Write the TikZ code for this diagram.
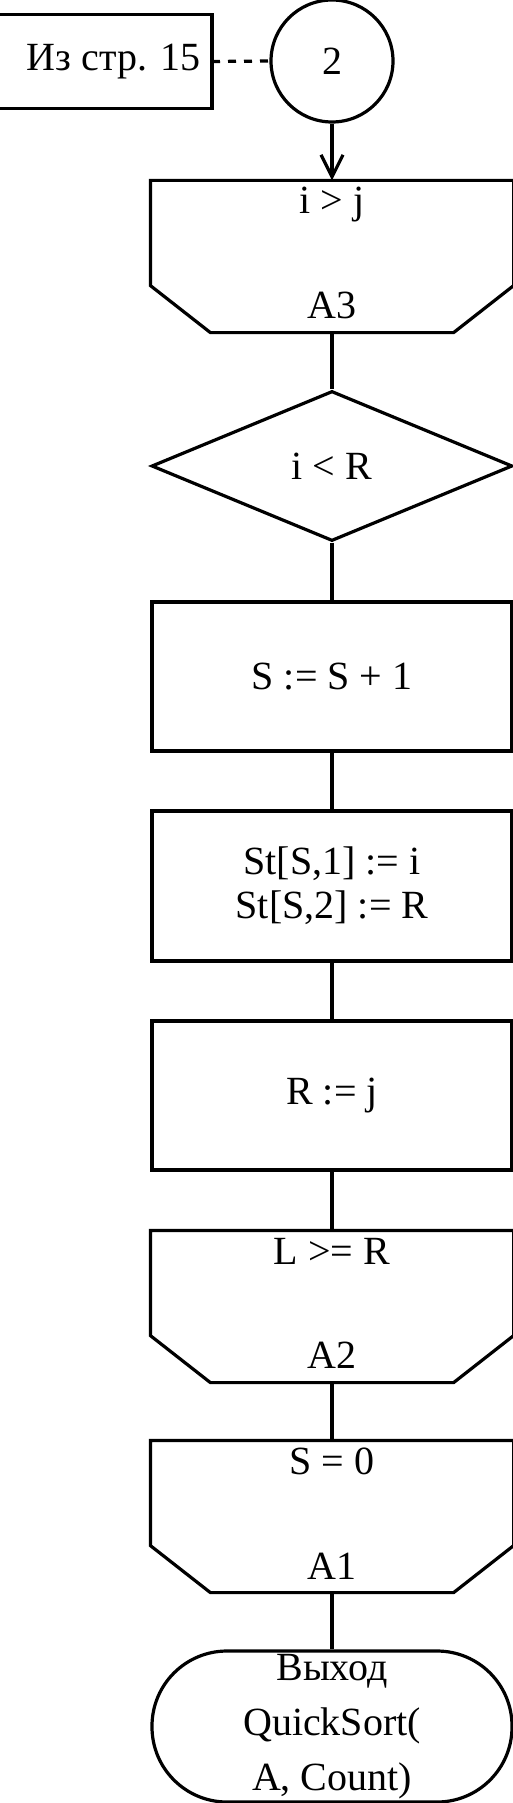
\documentclass[tikz,border=0pt]{standalone}
\usepackage{fontspec}
\setmainfont{Liberation Serif}
\usetikzlibrary{shapes.geometric,arrows.meta,calc}
\newcommand\loopoutline[1]{%
  \draw (#1.north west) -- (#1.north east) -- ($(#1.south east)+(0,-47)$)
    -- ($(#1.south east)+(-60,0)$) -- ($(#1.south west)+(60,0)$)
    -- ($(#1.south west)+(0,-47)$) -- cycle;}
\begin{document}
\begin{tikzpicture}[x=1pt,y=-1pt, line width=3.2pt,
  every node/.style={font=\fontsize{40}{44}\selectfont},
  blk/.style={draw, rectangle, minimum width=360pt, minimum height=149pt, inner sep=0pt, align=center},
  loopbox/.style={rectangle, minimum width=360pt, minimum height=149pt, inner sep=0pt},
  cond/.style={draw, diamond, minimum width=361pt, minimum height=150pt, inner sep=0pt},
  term/.style={draw, rectangle, rounded corners=75pt, minimum width=360pt, minimum height=151pt, inner sep=0pt, align=center, font=\fontsize{40}{55}\selectfont},
  conn/.style={draw, circle, minimum size=122pt, inner sep=0pt},
  lbl/.style={anchor=base, inner sep=0pt},
  arr/.style={-{Straight Barb[length=22pt,width=22pt]}},
  ]
\useasboundingbox (0,0) rectangle (513,1803);

% comment box
\node[rectangle, minimum width=232pt, minimum height=91pt, inner sep=0pt, anchor=east] (src) at (212,61.5) {};
\draw (src.north west) -- (src.north east) -- (src.south east) -- (src.south west);
\node[anchor=base east, inner sep=0pt] (srctxt) at (202,71) {Из стр. 15};

\node[conn] (c2) at (332,61) {2};
\draw[dashed, dash pattern=on 8pt off 8pt] (src.east) -- (c2.west);

% loop end A3
\node[loopbox] (a3) at (332,256.5) {};
\loopoutline{a3}
\node[lbl] (a3top) at ($(a3.north)+(0,33)$) {i > j};
\node[lbl] (a3bot) at ($(a3.south)+(0,-14)$) {A3};

\node[cond] (d1) at (332,466) {i < R};
\node[blk] (s1) at (332,676.5) {S := S + 1};
\node[blk, minimum height=150pt] (st) at (332,886) {St[S,1] := i\\St[S,2] := R};
\node[blk] (rj) at (332,1095.5) {R := j};

\node[loopbox] (a2) at (332,1306.5) {};
\loopoutline{a2}
\node[lbl] (a2top) at ($(a2.north)+(0,34)$) {L >= R};
\node[lbl] (a2bot) at ($(a2.south)+(0,-14)$) {A2};

\node[loopbox] (a1) at (332,1516.5) {};
\loopoutline{a1}
\node[lbl] (a1top) at ($(a1.north)+(0,34)$) {S = 0};
\node[lbl] (a1bot) at ($(a1.south)+(0,-13)$) {A1};

\node[term] (end) at (332,1726.5) {Выход\\QuickSort(\\A, Count)};

\draw[arr] (c2.south) -- (a3.north);
\draw (a3.south) -- (d1.north);
\draw (d1.south) -- (s1.north);
\draw (s1.south) -- (st.north);
\draw (st.south) -- (rj.north);
\draw (rj.south) -- (a2.north);
\draw (a2.south) -- (a1.north);
\draw (a1.south) -- (end.north);
\end{tikzpicture}
\end{document}
